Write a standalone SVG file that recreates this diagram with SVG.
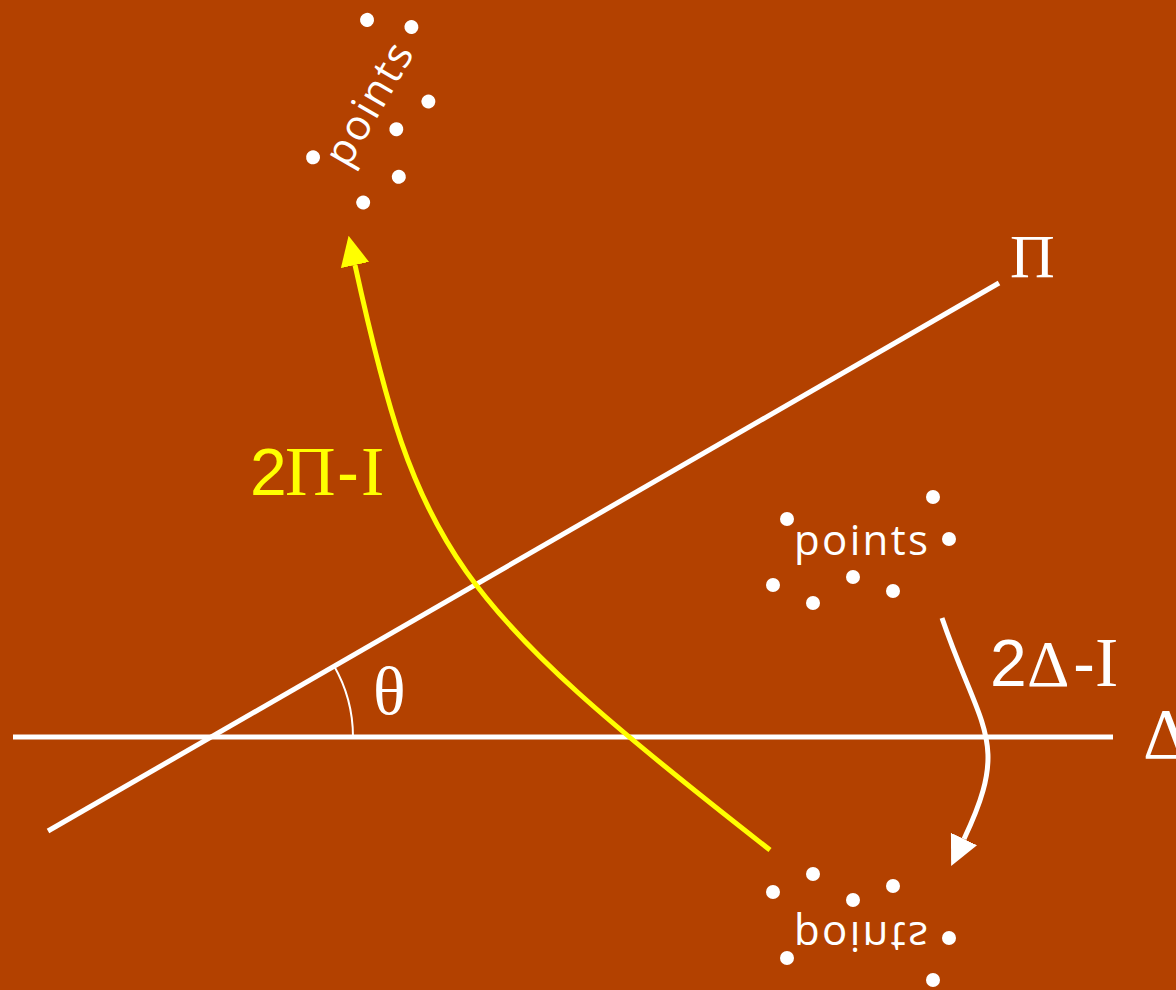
<svg xmlns="http://www.w3.org/2000/svg" xmlns:xlink="http://www.w3.org/1999/xlink" width="1176" height="990" viewBox="0 0 1176 990">
<style>
.bg{fill:#B34100}
.ln{stroke:#FFFFFF;stroke-width:5;fill:none}
.yl{stroke:#FFFF00;stroke-width:5;fill:none}
.dot{fill:#FFFFFF}
.pts{font-family:"Open Sans","Liberation Sans",Arial,sans-serif;font-size:42px;fill:#FFFFFF}
.sans{font-family:"Liberation Sans",Arial,sans-serif}
.serif{font-family:"Liberation Serif","Times New Roman",serif}
.wt{fill:#FFFFFF}
.yt{fill:#FFFF00}
</style>
<defs>
<marker id="ahY" markerUnits="userSpaceOnUse" markerWidth="30" markerHeight="30" viewBox="0 -13 26 26" refX="0" refY="0" orient="auto">
<path d="M0,-12.5 L26,0 L0,12.5 Z" fill="#FFFF00"/>
</marker>
<marker id="ahW" markerUnits="userSpaceOnUse" markerWidth="30" markerHeight="30" viewBox="0 -13 27 27" refX="0" refY="0" orient="auto">
<path d="M0,-13 L27,0 L0,13 Z" fill="#FFFFFF"/>
</marker>
<g id="cluster">
<circle class="dot" cx="933" cy="497" r="7"/>
<circle class="dot" cx="787" cy="519" r="7"/>
<circle class="dot" cx="949" cy="539" r="7"/>
<circle class="dot" cx="773" cy="585" r="7"/>
<circle class="dot" cx="853" cy="577" r="7"/>
<circle class="dot" cx="893" cy="591" r="7"/>
<circle class="dot" cx="813" cy="603" r="7"/>
<text class="pts" x="794" y="555" textLength="134" lengthAdjust="spacing">points</text>
</g>
</defs>
<rect class="bg" x="0" y="0" width="1176" height="990"/>

<g id="connectors">
<line id="delta-line" class="ln" x1="13" y1="737" x2="1113" y2="737"/>
<line id="pi-line" class="ln" x1="48" y1="831" x2="999" y2="283"/>
<path id="theta-arc" d="M333.8,665.5 A143,143 0 0 1 353,737" stroke="#FFFFFF" stroke-width="2" fill="none"/>
<path id="reflect-pi" class="yl" d="M770,850 C450,600 418,552 355,265" marker-end="url(#ahY)"/>
<path id="reflect-delta" class="ln" d="M942,618 C981,732 1011,740 964,839" marker-end="url(#ahW)"/>
</g>

<g id="points-original">
<use xlink:href="#cluster" href="#cluster"/>
</g>
<g id="points-reflected">
<use xlink:href="#cluster" href="#cluster" transform="translate(0,1477) scale(1,-1)"/>
</g>
<g id="points-rotated">
<use xlink:href="#cluster" href="#cluster" transform="translate(382.6,116.3) rotate(-60) translate(-857.3,-558.7)"/>
</g>

<g id="label-pi">
<text class="serif wt" x="1010" y="277" font-size="62">Π</text>
</g>
<g id="label-delta">
<text class="serif wt" x="1143" y="758" font-size="72">Δ</text>
</g>
<g id="label-theta">
<text class="serif wt" x="373" y="714" font-size="68">θ</text>
</g>
<g id="label-2pi-i">
<text class="yt" y="495"><tspan class="sans" x="250" font-size="66">2</tspan><tspan class="serif" x="285" font-size="70">Π</tspan><tspan class="sans" x="337" font-size="66">-</tspan><tspan class="serif" x="361" font-size="70">I</tspan></text>
</g>
<g id="label-2delta-i">
<text class="wt" y="686"><tspan class="sans" x="990" font-size="66">2</tspan><tspan class="serif" x="1027" font-size="66">Δ</tspan><tspan class="sans" x="1073" font-size="66">-</tspan><tspan class="serif" x="1095" font-size="70">I</tspan></text>
</g>
</svg>
